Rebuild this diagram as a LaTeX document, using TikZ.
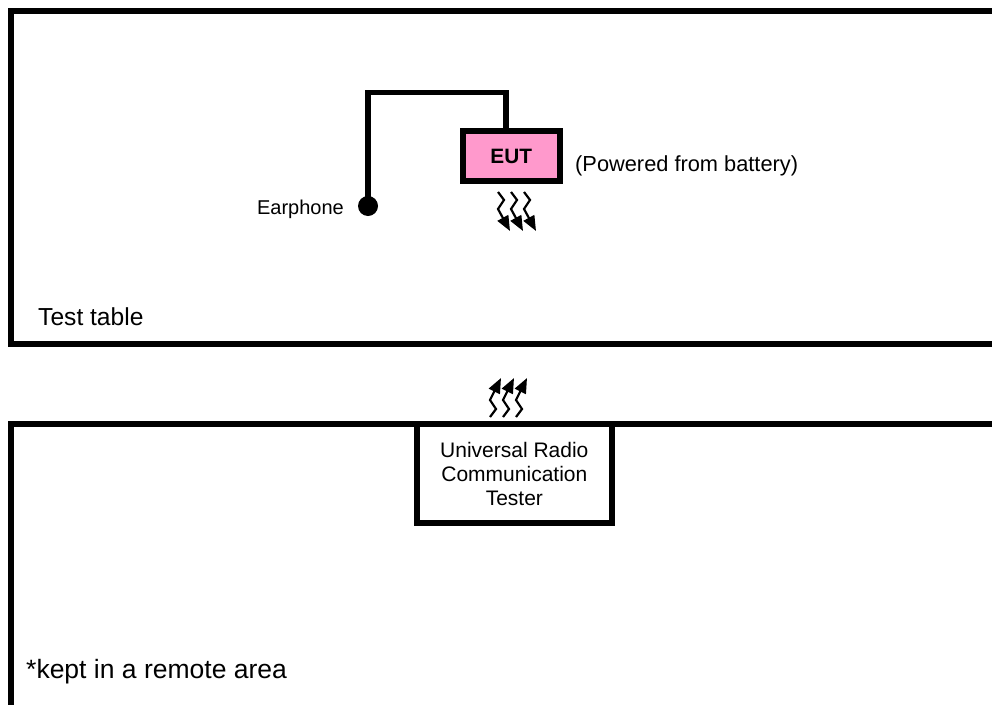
\documentclass[tikz,border=0pt]{standalone}
\usepackage{fontspec}
\setmainfont{Liberation Sans}
\usetikzlibrary{arrows.meta,calc}
\definecolor{eutpink}{HTML}{FF99CC}
\begin{document}
\begin{tikzpicture}[x=1pt,y=-1pt,
  frame/.style={line width=6pt},
  box/.style={draw,line width=6pt,rectangle,inner sep=0pt},
  wire/.style={line width=5.5pt},
  wave/.style={line width=2.2pt,-{Triangle[length=15pt,width=12pt]}},
  lbl/.style={inner sep=0pt}]
\useasboundingbox (0,0) rectangle (992,704);
\clip (0,0) rectangle (992,704);
% frames
\draw[frame] (1010,11) -- (10.7,11) -- (10.7,343.7) -- (1010,343.7);
\draw[frame] (1010,424) -- (10.7,424) -- (10.7,720);
% tester
\node[box, fill=white, minimum width=195.3pt, minimum height=99pt, align=center,
      font=\fontsize{21}{24}\selectfont] (tester) at (514.35,473.5)
      {Universal Radio\\Communication\\Tester};
% EUT
\node[box, fill=eutpink, minimum width=97pt, minimum height=50.3pt,
      font=\bfseries\fontsize{20.8}{24}\selectfont] (eut) at (511.2,156.2) {EUT};
% earphone
\node[circle, fill=black, inner sep=0pt, minimum size=20pt] (ear) at (368,206) {};
\coordinate (bend) at (368,92.5);
\draw[wire] ($(eut.north)+(-5,0)$) |- (bend) -- (ear.center);
% labels
\node[lbl, anchor=base east, font=\fontsize{20}{24}\selectfont] (earlbl) at (344,214) {Earphone};
\node[lbl, anchor=base west, font=\fontsize{21.8}{24}\selectfont] (pow) at (575,171) {(Powered from battery)};
\node[lbl, anchor=base west, font=\fontsize{24.6}{28}\selectfont] (tt) at (38,325) {Test table};
\node[lbl, anchor=base west, font=\fontsize{26.5}{30}\selectfont] (remote) at (26,678) {*kept in a remote area};
% radio waves
\foreach \dx in {0,13,26} {
  \draw[wave] (498+\dx,192) -- ++(6,8) -- ++(-6,9) -- ++(12,22);
  \draw[wave] (490+\dx,417) -- ++(6,-8) -- ++(-6,-9) -- ++(11,-22);
}
\end{tikzpicture}
\end{document}
